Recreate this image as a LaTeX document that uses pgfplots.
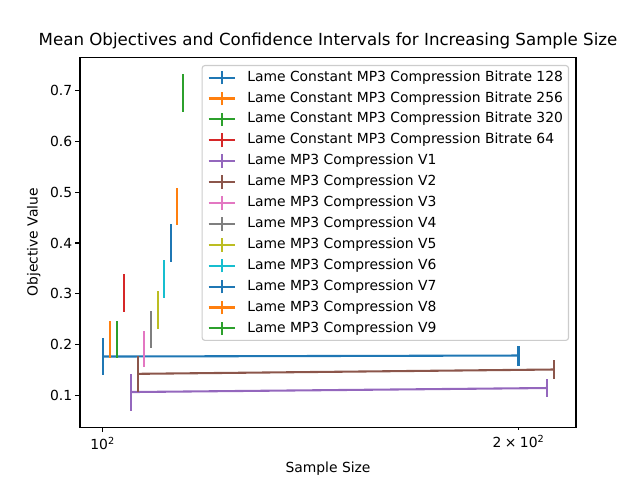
\documentclass[border=0pt]{standalone}
\usepackage{fontspec}
\setmainfont{DejaVu Sans}
\usepackage{pgfplots}
\pgfplotsset{compat=1.18}
\definecolor{C0}{HTML}{1F77B4}
\definecolor{C1}{HTML}{FF7F0E}
\definecolor{C2}{HTML}{2CA02C}
\definecolor{C3}{HTML}{D62728}
\definecolor{C4}{HTML}{9467BD}
\definecolor{C5}{HTML}{8C564B}
\definecolor{C6}{HTML}{E377C2}
\definecolor{C7}{HTML}{7F7F7F}
\definecolor{C8}{HTML}{BCBD22}
\definecolor{C9}{HTML}{17BECF}
\pgfplotsset{
  eb/.style={color=#1, line width=1.5pt, no markers,
    error bars/.cd, y dir=both, y explicit, error mark=none,
    error bar style={line width=1.5pt, solid, color=#1}},
}
\begin{document}
\begin{tikzpicture}
\useasboundingbox (-57.6pt,-38.02pt) rectangle (403.2pt,307.58pt);
\begin{axis}[
  at={(0,0)}, anchor=south west,
  scale only axis, width=357.12pt, height=266.11pt,
  xmode=log, xmin=96.31, xmax=220.1, ymin=0.0378, ymax=0.7644,
  axis line style={line width=0.8pt},
  tick style={black, line width=0.8pt},
  major tick length=3.5pt, tick align=outside,
  xtick pos=bottom, ytick pos=left,
  xtick={100}, xticklabels={10\textsuperscript{2}},
  extra x ticks={200}, extra x tick labels={2\hspace{0.25em}×\hspace{0.25em}10\textsuperscript{2}},
  extra x tick style={major tick length=2pt},
  minor xtick={}, 
  ytick={0.1,0.2,0.3,0.4,0.5,0.6,0.7},
  yticklabels={0.1,0.2,0.3,0.4,0.5,0.6,0.7},
  ticklabel style={font=\fontsize{10}{12}\selectfont},
  xticklabel style={inner sep=0pt, anchor=north, yshift=-3.5pt},
  yticklabel style={inner sep=0pt, anchor=east, xshift=-2pt},
  every axis title shift=6pt,
  title={Mean Objectives and Confidence Intervals for Increasing Sample Size},
  title style={font=\fontsize{12}{14}\selectfont, at={(axis description cs:0.5,1)}, anchor=south, inner sep=0pt},
  xlabel={Sample Size},
  xlabel style={font=\fontsize{10}{12}\selectfont, at={(axis description cs:0.5,0)}, anchor=north, inner sep=0pt, yshift=-24.8pt},
  ylabel={Objective Value},
  ylabel style={font=\fontsize{10}{12}\selectfont, at={(axis description cs:0,0.5)}, anchor=south, inner sep=0pt, yshift=28.3pt},
  legend style={at={(axis description cs:0.986,0.980)}, anchor=north east,
    font=\fontsize{10}{12}\selectfont, draw=black!20, line width=0.8pt, rounded corners=2pt,
    fill=white, fill opacity=0.8, text opacity=1, draw opacity=1,
    inner xsep=4pt, inner ysep=3pt, row sep=3.75pt,
    nodes={inner sep=0pt, text height=7.6pt, text depth=2.4pt}},
  legend cell align=left,
  legend image code/.code={
    \draw[line width=1.5pt, solid] (0pt,0pt) -- (19pt,0pt);
    \draw[line width=1.5pt, solid] (9.5pt,-4.9pt) -- (9.5pt,4.9pt);
    \path (27pt,0pt);
  },
]
\addplot[eb=C0] coordinates {(100,0.1767) +- (0,0.036) (200,0.1787) +- (0,0.0197)};
\addlegendentry{Lame Constant MP3 Compression Bitrate 128}
\addplot[eb=C1] coordinates {(101.2,0.2096) +- (0,0.036)};
\addlegendentry{Lame Constant MP3 Compression Bitrate 256}
\addplot[eb=C2] coordinates {(102.4,0.2096) +- (0,0.036)};
\addlegendentry{Lame Constant MP3 Compression Bitrate 320}
\addplot[eb=C3] coordinates {(103.6,0.3007) +- (0,0.0374)};
\addlegendentry{Lame Constant MP3 Compression Bitrate 64}
\addplot[eb=C4] coordinates {(104.8,0.1069) +- (0,0.0364) (209.6,0.1148) +- (0,0.018)};
\addlegendentry{Lame MP3 Compression V1}
\addplot[eb=C5] coordinates {(106.0,0.1427) +- (0,0.0354) (212.0,0.1512) +- (0,0.019)};
\addlegendentry{Lame MP3 Compression V2}
\addplot[eb=C6] coordinates {(107.2,0.1918) +- (0,0.036)};
\addlegendentry{Lame MP3 Compression V3}
\addplot[eb=C7] coordinates {(108.4,0.2300) +- (0,0.037)};
\addlegendentry{Lame MP3 Compression V4}
\addplot[eb=C8] coordinates {(109.6,0.2676) +- (0,0.037)};
\addlegendentry{Lame MP3 Compression V5}
\addplot[eb=C9] coordinates {(110.8,0.3300) +- (0,0.0374)};
\addlegendentry{Lame MP3 Compression V6}
\addplot[eb=C0] coordinates {(112.0,0.3994) +- (0,0.037)};
\addlegendentry{Lame MP3 Compression V7}
\addplot[eb=C1] coordinates {(113.2,0.4712) +- (0,0.036)};
\addlegendentry{Lame MP3 Compression V8}
\addplot[eb=C2] coordinates {(114.4,0.6940) +- (0,0.0374)};
\addlegendentry{Lame MP3 Compression V9}
\end{axis}
\end{tikzpicture}
\end{document}
